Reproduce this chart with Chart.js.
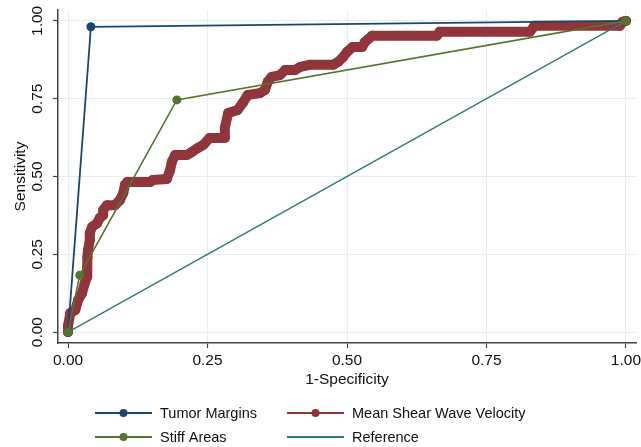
<!DOCTYPE html>
<html>
<head>
<meta charset="utf-8">
<script src="https://cdn.jsdelivr.net/npm/chart.js@4.4.0/dist/chart.umd.min.js"></script>
<style>
  html, body { margin: 0; padding: 0; background: #fff; }
  #wrap { width: 641px; height: 447px; }
</style>
</head>
<body>
<div id="wrap"><canvas id="rocChart" width="641" height="447"></canvas></div>
<script>
// ROC curves (1-specificity, sensitivity)
const tumorX = [0, 0.041, 1];
const tumorY = [0, 0.981, 1];

const stiffX = [0, 0.021, 0.195, 1];
const stiffY = [0, 0.183, 0.746, 1];

const refX = [0, 1];
const refY = [0, 1];

const sweX = [0, 0, 0.004, 0.013, 0.018, 0.025, 0.030, 0.034, 0.034, 0.035, 0.036, 0.039, 0.039, 0.043,
  0.052, 0.057, 0.063, 0.063, 0.070, 0.084, 0.093, 0.099, 0.102, 0.106, 0.147, 0.152, 0.177,
  0.183, 0.186, 0.192, 0.213, 0.222, 0.233, 0.242, 0.254, 0.281, 0.281, 0.287, 0.304, 0.313,
  0.322, 0.344, 0.353, 0.358, 0.365, 0.380, 0.389, 0.407, 0.416, 0.433, 0.475, 0.484, 0.493,
  0.500, 0.510, 0.527, 0.532, 0.545, 0.661, 0.666, 0.828, 0.836, 0.989, 0.994, 1];
const sweY = [0, 0.02, 0.061, 0.071, 0.103, 0.125, 0.158, 0.177, 0.209, 0.240, 0.264, 0.296, 0.318, 0.338,
  0.350, 0.367, 0.376, 0.392, 0.408, 0.408, 0.424, 0.447, 0.473, 0.482, 0.482, 0.489, 0.492,
  0.521, 0.547, 0.569, 0.569, 0.579, 0.592, 0.601, 0.624, 0.624, 0.656, 0.704, 0.714, 0.736,
  0.762, 0.768, 0.778, 0.804, 0.820, 0.826, 0.842, 0.842, 0.852, 0.859, 0.859, 0.868, 0.884,
  0.900, 0.916, 0.916, 0.932, 0.952, 0.952, 0.965, 0.965, 0.984, 0.984, 0.997, 1];

const axisTicks = [0, 0.25, 0.5, 0.75, 1];

const tumorColor = '#1a476f';
const sweColor = '#90353b';
const stiffColor = '#55752f';
const refColor = '#2f7d78';

const pts = (xs, ys) => xs.map((x, i) => ({ x: x, y: ys[i] }));

const fontFam = '"Liberation Sans", Arial, Helvetica, sans-serif';
const tickFont = { family: fontFam, size: 15.5, lineHeight: 1.2 };

const legendItems = [
  { label: 'Tumor Margins', color: tumorColor, marker: true },
  { label: 'Mean Shear Wave Velocity', color: sweColor, marker: true },
  { label: 'Stiff Areas', color: stiffColor, marker: true },
  { label: 'Reference', color: refColor, marker: false }
];

// stata-style legend: two columns, line + marker key
const stataLegend = {
  id: 'stataLegend',
  afterDraw(chart) {
    const ctx = chart.ctx;
    ctx.save();
    ctx.font = '14.5px ' + fontFam;
    ctx.textBaseline = 'middle';
    legendItems.forEach((item, i) => {
      const x0 = i % 2 === 0 ? 95 : 287;
      const y0 = i < 2 ? 413 : 437;
      ctx.strokeStyle = item.color;
      ctx.lineWidth = 2;
      ctx.beginPath();
      ctx.moveTo(x0, y0);
      ctx.lineTo(x0 + 57, y0);
      ctx.stroke();
      if (item.marker) {
        ctx.fillStyle = item.color;
        ctx.beginPath();
        ctx.arc(x0 + 28.5, y0, 4, 0, Math.PI * 2);
        ctx.fill();
      }
      ctx.fillStyle = '#111';
      ctx.fillText(item.label, x0 + 65, y0 + 1);
    });
    ctx.restore();
  }
};

const ctx = document.getElementById('rocChart').getContext('2d');

new Chart(ctx, {
  type: 'scatter',
  data: {
    datasets: [
      {
        label: 'Stiff Areas',
        data: pts(stiffX, stiffY),
        showLine: true,
        borderColor: stiffColor,
        backgroundColor: stiffColor,
        borderWidth: 1.6,
        pointRadius: 4.5,
        pointBorderWidth: 0
      },
      {
        label: 'Reference',
        data: pts(refX, refY),
        showLine: true,
        borderColor: refColor,
        borderWidth: 1.5,
        pointRadius: 0
      },
      {
        label: 'Tumor Margins',
        data: pts(tumorX, tumorY),
        showLine: true,
        borderColor: tumorColor,
        backgroundColor: tumorColor,
        borderWidth: 1.8,
        pointRadius: 4.5,
        pointBorderWidth: 0
      },
      {
        label: 'Mean Shear Wave Velocity',
        data: pts(sweX, sweY),
        showLine: true,
        borderColor: sweColor,
        backgroundColor: sweColor,
        borderWidth: 10,
        borderJoinStyle: 'round',
        borderCapStyle: 'round',
        pointRadius: 5,
        pointBorderWidth: 0
      }
    ]
  },
  options: {
    responsive: false,
    animation: false,
    layout: { padding: { left: 0, right: 5, top: 10, bottom: 57 } },
    plugins: {
      legend: { display: false },
      tooltip: { enabled: false }
    },
    scales: {
      x: {
        type: 'linear',
        min: -0.018,
        max: 1.018,
        afterBuildTicks: s => { s.ticks = axisTicks.map(v => ({ value: v })); },
        afterFit: s => { s.height = 47; s.paddingLeft = 0; s.paddingRight = 0; },
        grid: { color: '#e6eef1', lineWidth: 1, tickLength: 5, tickColor: '#444', tickWidth: 1.2 },
        border: { color: '#444', width: 1.5 },
        ticks: { padding: 3, color: '#111', font: tickFont, maxRotation: 0, callback: v => v.toFixed(2) },
        title: { display: true, text: '1-Specificity', color: '#111', font: tickFont, padding: { top: 0, bottom: 1 } }
      },
      y: {
        type: 'linear',
        min: -0.035,
        max: 1.035,
        afterBuildTicks: s => { s.ticks = axisTicks.map(v => ({ value: v })); },
        afterFit: s => { s.width = 58; s.paddingTop = 0; s.paddingBottom = 0; },
        grid: { color: '#e6eef1', lineWidth: 1, tickLength: 5, tickColor: '#444', tickWidth: 1.2 },
        border: { color: '#444', width: 1.5 },
        ticks: { padding: 0, color: '#111', font: tickFont, minRotation: 90, maxRotation: 90, crossAlign: 'center', callback: v => v.toFixed(2) },
        title: { display: true, text: 'Sensitivity', color: '#111', font: tickFont, padding: { top: 11, bottom: 0 } }
      }
    }
  },
  plugins: [stataLegend]
});
</script>
</body>
</html>
